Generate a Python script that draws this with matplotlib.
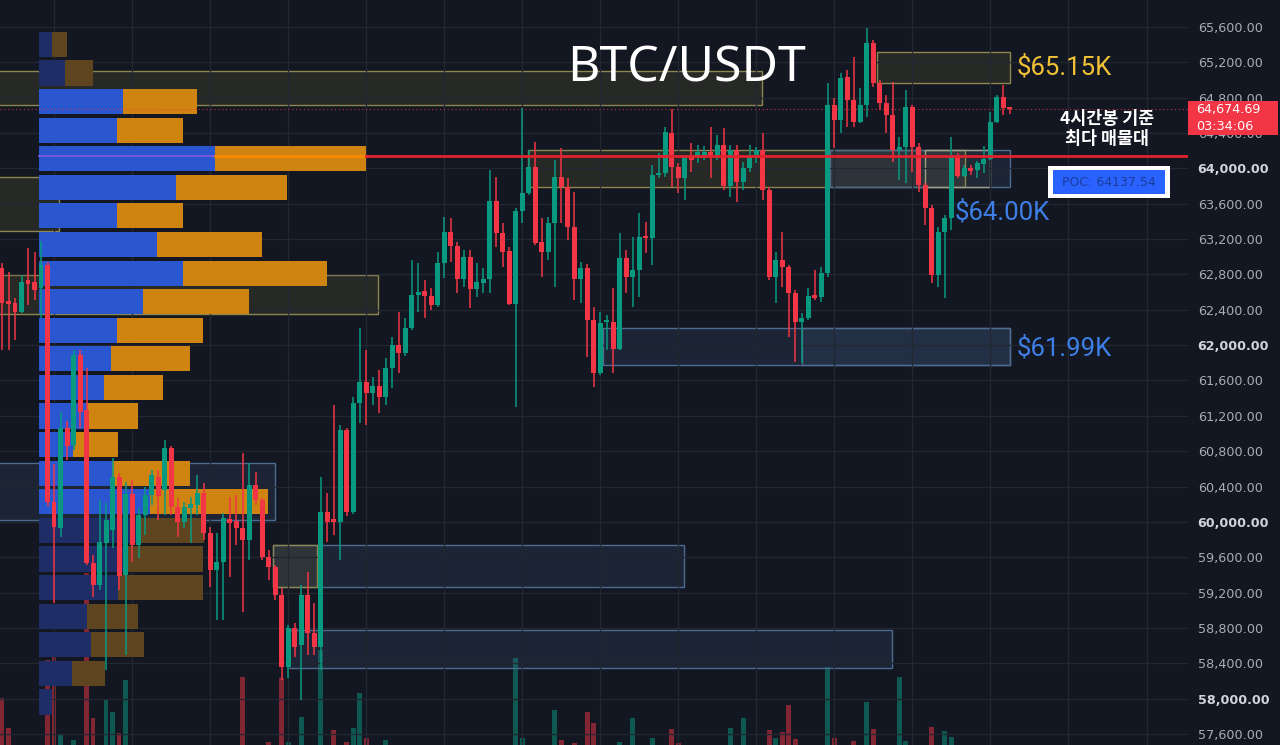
import numpy as np
import matplotlib
matplotlib.use('Agg')
import matplotlib.pyplot as plt
from matplotlib.patches import Rectangle
import matplotlib.transforms as mtransforms

# 4h candles, BTC/USDT
opens = [62873, 62500, 62477, 62375, 62737, 62715, 62647, 62907, 60225, 59931, 61063, 60870,
         61889, 61267, 59535, 59286, 59761, 59909, 60508, 59399, 60316, 59739, 60078, 60305,
         60508, 60361, 60836, 60169, 59999, 60157, 60191, 60327, 59875, 59456, 59546, 60033,
         60010, 59931, 59795, 60418, 60248, 59603, 59490, 59173, 58358, 58800, 58607, 59173,
         58743, 58585, 60112, 60033, 59999, 61040, 60112, 61346, 61583, 61459, 61538, 61414,
         61742, 62002, 61911, 62194, 62568, 62613, 62556, 62455, 62930, 63281, 63122, 62749,
         63003, 62636, 62704, 62749, 63631, 63269, 63066, 62466, 63518, 63722, 64016, 63168,
         63054, 63383, 63903, 63790, 63337, 62749, 62873, 62285, 61685, 62262, 62262, 61957,
         62987, 62771, 62851, 63235, 63213, 63926, 63948, 64401, 64016, 63892, 64129, 64129,
         64141, 64186, 64152, 64265, 63801, 64209, 63847, 64005, 64152, 64209, 63756, 62771,
         62964, 62885, 62590, 62262, 62308, 62568, 62545, 62817, 64718, 64548, 65035, 64774,
         64525, 64718, 65419, 64967, 64740, 64605, 64209, 64243, 64695, 64243, 63813, 63552,
         62794, 63281, 63439, 64141, 63914, 64005, 63982, 64050, 64107, 64525, 64808, 64695]
highs = [62930, 62828, 62534, 62794, 63100, 63054, 63179, 62941, 60655, 61244, 61142, 61945,
         61945, 61742, 59626, 60248, 60214, 60723, 60553, 60451, 60474, 60157, 60395, 60588,
         60588, 60927, 60859, 60271, 60225, 60282, 60531, 60440, 59942, 59875, 60101, 60282,
         60305, 60780, 60667, 60565, 60271, 59682, 59513, 59252, 58834, 58856, 59286, 59433,
         59082, 60508, 60327, 61323, 61097, 61063, 61414, 62194, 61945, 61640, 61719, 61855,
         62093, 62375, 62308, 62964, 62930, 62737, 62647, 63054, 63450, 63439, 63168, 63077,
         63077, 62930, 62873, 63982, 63903, 63382, 63111, 63552, 64684, 64209, 64299, 63439,
         63450, 64095, 64231, 63892, 63733, 62941, 62919, 62432, 62375, 62342, 62647, 63269,
         63077, 63224, 63496, 63394, 64039, 64175, 64469, 64672, 64062, 64152, 64288, 64265,
         64254, 64469, 64378, 64458, 64265, 64265, 64073, 64265, 64243, 64401, 63790, 63054,
         63281, 62907, 62624, 62364, 62647, 62851, 62885, 64967, 64797, 65080, 65114, 65261,
         64910, 65589, 65453, 65001, 64831, 64978, 64356, 64888, 64718, 64288, 63835, 63586,
         63337, 63473, 64356, 64175, 64039, 64039, 64084, 64254, 64639, 64831, 64944, 64695]
lows = [61945, 61945, 62059, 62364, 62455, 62511, 62308, 60180, 59082, 59829, 60701, 60814,
        61063, 59513, 59150, 59230, 58324, 59705, 59230, 58494, 59547, 59592, 59852, 60191,
        60022, 60078, 60078, 59829, 59931, 59761, 60078, 59795, 59264, 58890, 58890, 59377,
        59739, 58981, 59569, 60191, 59569, 59343, 59116, 58211, 58234, 58471, 57985, 58494,
        58494, 58324, 59773, 59852, 59569, 60067, 60090, 61119, 61097, 61323, 61232, 61323,
        61515, 61685, 61878, 62172, 62375, 62308, 62398, 62432, 62760, 62941, 62590, 62658,
        62421, 62545, 62590, 62590, 63111, 62885, 62455, 61300, 63383, 63699, 63134, 62771,
        62964, 62658, 63383, 63190, 62511, 62477, 61866, 61527, 61663, 61945, 61685, 61945,
        62590, 62432, 62545, 63043, 62907, 63892, 63903, 63790, 63722, 63643, 63960, 64062,
        64096, 63892, 64096, 63756, 63677, 63620, 63756, 63960, 64062, 63643, 62737, 62477,
        62658, 62093, 61810, 61798, 62285, 62511, 62489, 62771, 64231, 64401, 64469, 64469,
        64514, 64582, 64921, 64661, 64401, 64073, 63869, 63835, 63960, 63733, 63360, 62704,
        62658, 62534, 63303, 63892, 63903, 63926, 63892, 63948, 64096, 64514, 64605, 64616]
closes = [62477, 62466, 62375, 62715, 62692, 62624, 62907, 60225, 59942, 61063, 60859, 61889,
          61244, 59535, 59286, 59773, 60022, 60508, 59388, 60316, 59739, 60078, 60305, 60531,
          60293, 60836, 60169, 59999, 60169, 60203, 60327, 59875, 59456, 59546, 60044, 59988,
          59931, 59795, 60418, 60248, 59603, 59490, 59173, 58358, 58800, 58585, 59173, 58743,
          58585, 60112, 59999, 59999, 61040, 60112, 61346, 61583, 61459, 61538, 61414, 61742,
          62002, 61911, 62194, 62568, 62602, 62556, 62455, 62930, 63281, 63122, 62749, 63003,
          62636, 62715, 62749, 63631, 63269, 63054, 62466, 63518, 63722, 64016, 63156, 63054,
          63383, 63903, 63790, 63337, 62749, 62873, 62285, 61685, 62251, 62285, 61957, 62987,
          62771, 62851, 63224, 63213, 63926, 63948, 64409, 64016, 63892, 64129, 64096, 64186,
          64186, 64152, 64265, 63801, 64209, 63847, 64005, 64152, 64209, 63756, 62771, 62964,
          62885, 62590, 62262, 62308, 62556, 62534, 62817, 64718, 64548, 65023, 64774, 64525,
          64718, 65419, 64967, 64740, 64605, 64209, 64243, 64695, 64243, 63813, 63552, 62794,
          63281, 63439, 64129, 63914, 64005, 63971, 64062, 64107, 64525, 64808, 64684, 64674.69]
volumes = [470, 170, 0, 0, 0, 0, 0, 850, 1050, 100, 0, 50,
           0, 1720, 270, 0, 450, 330, 120, 650, 0, 0, 0, 0,
           0, 0, 0, 0, 0, 0, 0, 0, 0, 0, 0, 0,
           0, 680, 0, 0, 0, 30, 0, 670, 30, 0, 280, 0,
           0, 950, 0, 150, 0, 30, 170, 520, 70, 0, 0, 50,
           0, 0, 0, 0, 0, 0, 0, 0, 0, 0, 0, 0,
           0, 0, 0, 0, 0, 0, 0, 870, 70, 0, 0, 0,
           0, 350, 50, 0, 20, 0, 330, 220, 0, 0, 0, 30,
           0, 270, 0, 0, 70, 0, 0, 160, 20, 0, 0, 0,
           0, 0, 0, 0, 170, 0, 270, 0, 0, 0, 150, 70,
           130, 400, 60, 0, 0, 0, 0, 780, 70, 0, 0, 40,
           0, 430, 160, 0, 0, 0, 680, 40, 0, 0, 0, 180,
           0, 140, 80, 0, 0, 0, 0, 0, 0, 0, 0, 0]

# volume profile, rows from top to bottom
vp_buy = [130, 260, 840, 780, 1760, 1370, 780, 1180, 1440, 1040, 780, 720,
          650, 480, 340, 730, 1110, 1010, 890, 790, 480, 520, 330, 130]
vp_sell = [150, 280, 740, 660, 1510, 1110, 660, 1050, 1440, 1060, 860, 790,
           590, 510, 450, 780, 1180, 640, 750, 850, 510, 530, 330, 0]
vp_range = (57800, 65566)
value_area = (2, 16)
poc = 64137.54

# zones: start candle, end candle, low, high, style
zone_start = [-5, 134.5, -5, -5, 80.9, 127.3, 141.9, 92.4, 123, -5, 41.7, 41.7, 44]
zone_end = [116.9, 155, 8.8, 57.8, 148.1, 155, 151.9, 155, 155, 42, 104.9, 48.4, 136.9]
zone_low = [64718, 64967, 63292, 62353, 63790, 63790, 63790, 61776, 61776, 60022, 59263, 59263, 58347]
zone_high = [65103, 65318, 63903, 62794, 64209, 64209, 64209, 62194, 62194, 60667, 59739, 59739, 58777]
zone_kind = ['y', 'y', 'y', 'y', 'y', 'b', 'g', 'b', 'b', 'b', 'b', 'y', 'b']

level_labels = ['$65.15K', '$64.00K', '$61.99K']

BG = '#131722'
GRID = '#232732'
UP = '#089981'
DN = '#f23645'

W, H = 1280, 745
plot_w = 1188
step_px = 6.503
x0_px = 2

fig = plt.figure(figsize=(W / 100, H / 100), dpi=100)
fig.patch.set_facecolor(BG)
rect = [0, 0, plot_w / W, 1]
ax_vol = fig.add_axes(rect, zorder=0)
ax = fig.add_axes(rect, zorder=1)
ax.set_facecolor('none')
ax_vol.set_facecolor(BG)

xlim = (-x0_px / step_px, (plot_w - x0_px) / step_px)
ylim = (57475, 65906)
for a in (ax, ax_vol):
    a.set_xlim(*xlim)
    for s in a.spines.values():
        s.set_visible(False)
ax.set_ylim(*ylim)
ax_vol.set_ylim(0, 7450)
ax_vol.set_xticks([])
ax_vol.set_yticks([])

idx = np.arange(len(opens))
o = np.array(opens, float)
c = np.array(closes, float)
colors = [UP if cc >= oo else DN for oo, cc in zip(o, c)]

# volume
ax_vol.bar(idx, volumes, width=0.75, color=colors, alpha=0.5, linewidth=0)

# grid
ticks = list(range(57600, 65601, 400))
ax.set_yticks(ticks)
ax.set_xticks(list(range(8, 183, 12)))
ax.grid(True, color=GRID, lw=0.9, zorder=0)
ax.tick_params(axis='x', length=0, labelbottom=False)
ax.yaxis.tick_right()
ax.tick_params(axis='y', length=0, pad=7)
ax.set_yticklabels([f"{t:,.2f}" for t in ticks])
for t, lab in zip(ticks, ax.get_yticklabels()):
    lab.set_fontsize(9.2)
    if t % 2000 == 0:
        lab.set_fontweight('bold')
        lab.set_color('#d1d4dc')
    else:
        lab.set_color('#a9adb8')

# zones
zstyle = {'y': ('#8c874f', '#7a7540', 0.2),
          'b': ('#4d6a8f', '#46648c', 0.18),
          'g': ('#a09f88', '#6e6a3a', 0.05)}
for xs, xe, lo, hi, k in zip(zone_start, zone_end, zone_low, zone_high, zone_kind):
    ec, fc, al = zstyle[k]
    ax.add_patch(Rectangle((xs, lo), xe - xs, hi - lo, facecolor=fc, alpha=al,
                           edgecolor='none', zorder=1))
    ax.add_patch(Rectangle((xs, lo), xe - xs, hi - lo, facecolor='none',
                           edgecolor=ec, lw=1, zorder=1.1))

# volume profile (fixed pixel width)
tvp = mtransforms.blended_transform_factory(ax.transAxes, ax.transData)
edges = np.linspace(vp_range[0], vp_range[1], len(vp_buy) + 1)
vstep = edges[1] - edges[0]
vp_x0 = 39 / plot_w
scale = 0.1 / plot_w
for k, (b, s) in enumerate(zip(vp_buy, vp_sell)):
    lo = edges[len(vp_buy) - 1 - k] + 0.06 * vstep
    hgt = 0.88 * vstep
    inside = value_area[0] <= k <= value_area[1]
    cb = '#2a56d0' if inside else '#1f2d66'
    cs = '#cf8412' if inside else '#5e4520'
    ax.add_patch(Rectangle((vp_x0, lo), b * scale, hgt, transform=tvp,
                           facecolor=cb, lw=0, zorder=2))
    ax.add_patch(Rectangle((vp_x0 + b * scale, lo), s * scale, hgt, transform=tvp,
                           facecolor=cs, lw=0, zorder=2))

# POC line
kp = int(np.argmax(np.array(vp_buy) + np.array(vp_sell)))
b_end = vp_x0 + vp_buy[kp] * scale
s_end = b_end + vp_sell[kp] * scale
ax.plot([vp_x0, b_end], [poc, poc], color='#8a55e0', lw=1.2, transform=tvp, zorder=2.5)
ax.plot([b_end, s_end], [poc, poc], color='#ff8a00', lw=1.8, transform=tvp, zorder=2.5)
ax.plot([s_end, 1], [poc, poc], color='#e3222d', lw=2, transform=tvp, zorder=6)

# candles
ax.vlines(idx, lows, highs, colors=colors, lw=1.1, zorder=4)
body = np.maximum(np.abs(c - o), 12)
ax.bar(idx, body, bottom=np.minimum(o, c), width=0.76, color=colors, lw=0, zorder=5)

# last price line
last = closes[-1]
ax.axhline(last, color=DN, lw=0.8, ls=(0, (1, 2.5)), alpha=0.8, zorder=3)


def fx(px):
    return px / W


def fy(py):
    return 1 - py / H


# price tag (covers the tick labels behind it, as on the chart)
fig.patches.append(Rectangle((fx(1188), fy(135)), 90 / W, 34 / H, transform=fig.transFigure,
                             facecolor=DN, edgecolor='none', zorder=5))
fig.text(fx(1196), fy(110), f"{last:,.2f}", color='white', fontsize=9.2, va='center', zorder=6)
fig.text(fx(1196), fy(126), "03:34:06", color='white', fontsize=9.2, va='center', zorder=6)

# titles and labels
fig.text(fx(686), fy(68), 'BTC/USDT', color='white', fontsize=36, family='Noto Sans',
         ha='center', va='center', zorder=7)
fig.text(fx(1017), fy(67), level_labels[0], color='#f0c035', fontsize=18.5, family='Roboto',
         va='center', zorder=7)
fig.text(fx(955), fy(212), level_labels[1], color='#3d7fe6', fontsize=18.5, family='Roboto',
         va='center', zorder=7)
fig.text(fx(1017), fy(348), level_labels[2], color='#3d7fe6', fontsize=18.5, family='Roboto',
         va='center', zorder=7)
fig.text(fx(1107), fy(119), '4시간봉 기준', color='white', fontsize=12.5,
         family=['Noto Sans CJK KR', 'DejaVu Sans'], fontweight='bold',
         ha='center', va='center', zorder=7)
fig.text(fx(1107), fy(139), '최다 매물대', color='white', fontsize=12.5,
         family=['Noto Sans CJK KR', 'DejaVu Sans'], fontweight='bold',
         ha='center', va='center', zorder=7)

# POC box
fig.patches.append(Rectangle((fx(1048), fy(198)), 122 / W, 32 / H, transform=fig.transFigure,
                             facecolor='white', edgecolor='none', zorder=5))
fig.patches.append(Rectangle((fx(1053), fy(194)), 112 / W, 24 / H, transform=fig.transFigure,
                             facecolor='#2962ff', edgecolor='none', zorder=6))
fig.text(fx(1109), fy(183), f"POC: {poc:.2f}", color='#1b3c99', fontsize=9,
         ha='center', va='center', zorder=7)

fig.savefig('out.png', dpi=100, facecolor=BG)
